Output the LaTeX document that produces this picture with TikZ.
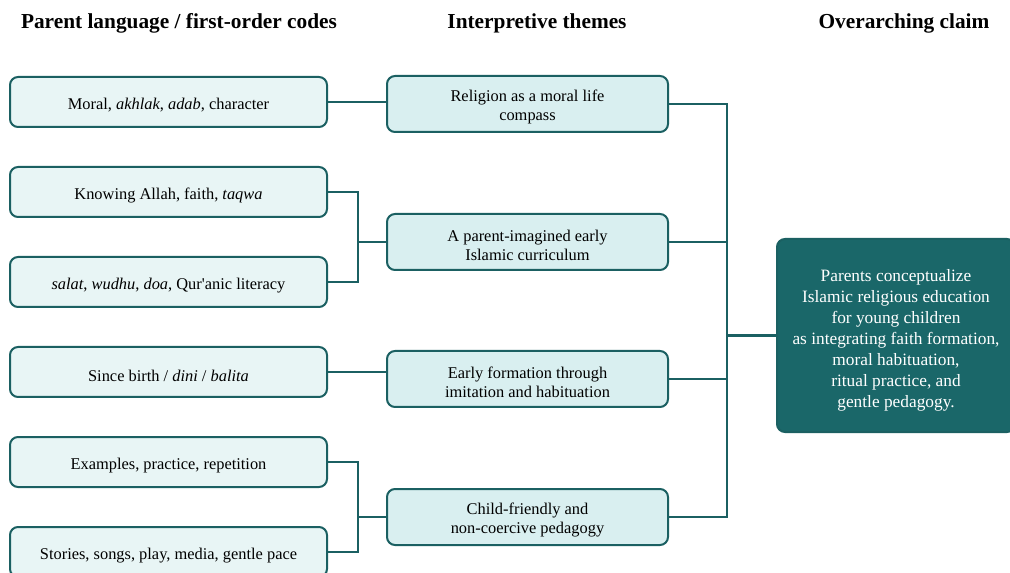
\documentclass[tikz,border=0pt]{standalone}
\usepackage{fontspec}
\setmainfont{Liberation Serif}
\usepackage{tikz}
\definecolor{tealline}{RGB}{27,96,98}
\definecolor{tealdark}{RGB}{26,103,105}
\definecolor{codefill}{RGB}{232,245,245}
\definecolor{themefill}{RGB}{217,239,240}
\newcommand{\bodysize}{\fontsize{12.3}{14.25}\selectfont}
\newcommand{\headsize}{\fontsize{16}{19}\selectfont\bfseries}
\newcommand{\dropstrut}{\rule{0pt}{13.8pt}}
\newcommand{\claimstrut}{\rule{0pt}{16.5pt}}

\tikzset{
  codebox/.style={draw=tealline, line width=1.5pt, fill=codefill, rounded corners=6pt,
    minimum width=237.75pt, minimum height=37.5pt, align=center, font=\bodysize,
    execute at begin node=\dropstrut},
  themebox/.style={draw=tealline, line width=1.5pt, fill=themefill, rounded corners=6pt,
    minimum width=210.75pt, minimum height=42pt, align=center, font=\bodysize},
  claimbox/.style={draw=tealline, line width=1.5pt, fill=tealdark, rounded corners=6pt,
    minimum width=178.5pt, minimum height=144.75pt, align=center, text=white,
    font=\fontsize{13}{15.75}\selectfont},
  heading/.style={font=\headsize},
  link/.style={draw=tealline, line width=1.9pt}
}

\begin{document}
\begin{tikzpicture}[x=0.75pt, y=-0.75pt]

\path[use as bounding box, clip] (0,0) rectangle (1010,573);

% column headings
\node[heading] (codesHead) at (179,23.5) {Parent language / first-order codes};
\node[heading] (themesHead) at (537,23.5) {Interpretive themes};
\node[heading] (claimHead) at (904,23.5) {Overarching claim};

% first-order codes
\node[codebox] (moral) at (168.5,102) {Moral, \textit{akhlak}, \textit{adab}, character};
\node[codebox] (knowing) at (168.5,192) {Knowing Allah, faith, \textit{taqwa}};
\node[codebox] (salat) at (168.5,282) {\textit{salat}, \textit{wudhu}, \textit{doa}, Qur\textquotesingle anic literacy};
\node[codebox] (birth) at (168.5,372) {Since birth / \textit{dini} / \textit{balita}};
\node[codebox] (examples) at (168.5,462) {Examples, practice, repetition};
\node[codebox] (stories) at (168.5,552) {Stories, songs, play, media, gentle pace};

% themes
\node[themebox] (compass) at (527.5,104) {\dropstrut Religion as a moral life\\compass};
\node[themebox] (curriculum) at (527.5,242) {\dropstrut A parent-imagined early\\Islamic curriculum};
\node[themebox] (formation) at (527.5,379) {\dropstrut Early formation through\\imitation and habituation};
\node[themebox] (pedagogy) at (527.5,517) {\dropstrut Child-friendly and\\non-coercive pedagogy};

% claim
\node[claimbox] (claim) at (896,335.5) {\claimstrut Parents conceptualize\\Islamic religious education\\for young children\\as integrating faith formation,\\moral habituation,\\ritual practice, and\\gentle pedagogy.};

% codes to themes
\coordinate (joinCurriculum) at (358,242);
\coordinate (joinPedagogy) at (358,517);
\draw[link] (moral.east) -- (moral.east -| compass.west);
\draw[link] (knowing.east) -| (joinCurriculum) -- (curriculum.west);
\draw[link] (salat.east) -| (joinCurriculum);
\draw[link] (birth.east) -- (birth.east -| formation.west);
\draw[link] (examples.east) -| (joinPedagogy) -- (pedagogy.west);
\draw[link] (stories.east) -| (joinPedagogy);

% themes to claim
\coordinate (joinClaim) at (727,335.5);
\draw[link] (compass.east) -| (joinClaim) -- (claim.west);
\draw[link] (curriculum.east) -| (joinClaim);
\draw[link] (formation.east) -| (joinClaim);
\draw[link] (pedagogy.east) -| (joinClaim);

\end{tikzpicture}
\end{document}
